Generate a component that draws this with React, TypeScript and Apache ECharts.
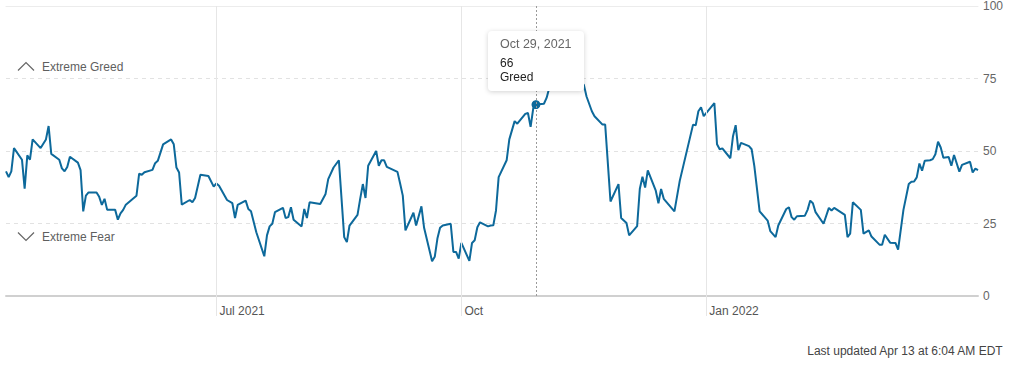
import React, { useEffect, useRef } from "react";
import * as echarts from "echarts";

const dates: string[] = [
  "2021-04-13","2021-04-14","2021-04-15","2021-04-16","2021-04-19","2021-04-20","2021-04-21","2021-04-22","2021-04-23","2021-04-26",
  "2021-04-28","2021-04-29","2021-04-30","2021-05-03","2021-05-04","2021-05-05","2021-05-06","2021-05-07","2021-05-10","2021-05-11",
  "2021-05-12","2021-05-13","2021-05-14","2021-05-17","2021-05-18","2021-05-19","2021-05-20","2021-05-21","2021-05-24","2021-05-25",
  "2021-05-26","2021-05-27","2021-05-28","2021-06-01","2021-06-02","2021-06-03","2021-06-04","2021-06-07","2021-06-08","2021-06-09",
  "2021-06-11","2021-06-14","2021-06-15","2021-06-16","2021-06-17","2021-06-18","2021-06-21","2021-06-22","2021-06-23","2021-06-25",
  "2021-06-28","2021-06-30","2021-07-01","2021-07-02","2021-07-05","2021-07-07","2021-07-08","2021-07-09","2021-07-12","2021-07-13",
  "2021-07-14","2021-07-16","2021-07-19","2021-07-20","2021-07-21","2021-07-22","2021-07-23","2021-07-26","2021-07-27","2021-07-28",
  "2021-07-29","2021-07-30","2021-08-02","2021-08-03","2021-08-04","2021-08-05","2021-08-09","2021-08-11","2021-08-12","2021-08-14",
  "2021-08-16","2021-08-18","2021-08-19","2021-08-20","2021-08-23","2021-08-24","2021-08-25","2021-08-26","2021-08-27","2021-08-30",
  "2021-08-31","2021-09-01","2021-09-02","2021-09-03","2021-09-07","2021-09-08","2021-09-09","2021-09-10","2021-09-13","2021-09-14",
  "2021-09-16","2021-09-17","2021-09-20","2021-09-21","2021-09-22","2021-09-23","2021-09-24","2021-09-27","2021-09-28","2021-09-29",
  "2021-09-30","2021-10-01","2021-10-04","2021-10-05","2021-10-06","2021-10-07","2021-10-08","2021-10-11","2021-10-12","2021-10-13",
  "2021-10-14","2021-10-15","2021-10-18","2021-10-19","2021-10-21","2021-10-22","2021-10-25","2021-10-26","2021-10-27","2021-10-28",
  "2021-10-29","2021-11-01","2021-11-02","2021-11-03","2021-11-04","2021-11-05","2021-11-08","2021-11-09","2021-11-10","2021-11-11",
  "2021-11-12","2021-11-15","2021-11-16","2021-11-17","2021-11-19","2021-11-20","2021-11-23","2021-11-24","2021-11-26","2021-11-29",
  "2021-11-30","2021-12-02","2021-12-03","2021-12-06","2021-12-07","2021-12-08","2021-12-09","2021-12-10","2021-12-13","2021-12-14",
  "2021-12-15","2021-12-16","2021-12-20","2021-12-22","2021-12-27","2021-12-28","2021-12-29","2021-12-30","2021-12-31","2022-01-04",
  "2022-01-05","2022-01-06","2022-01-07","2022-01-10","2022-01-11","2022-01-12","2022-01-13","2022-01-14","2022-01-17","2022-01-18",
  "2022-01-19","2022-01-21","2022-01-24","2022-01-25","2022-01-27","2022-01-28","2022-01-31","2022-02-01","2022-02-02","2022-02-03",
  "2022-02-04","2022-02-07","2022-02-08","2022-02-09","2022-02-10","2022-02-11","2022-02-14","2022-02-16","2022-02-17","2022-02-18",
  "2022-02-22","2022-02-23","2022-02-24","2022-02-25","2022-02-28","2022-03-01","2022-03-03","2022-03-04","2022-03-07","2022-03-08",
  "2022-03-09","2022-03-11","2022-03-13","2022-03-14","2022-03-16","2022-03-18","2022-03-19","2022-03-20","2022-03-21","2022-03-22",
  "2022-03-23","2022-03-24","2022-03-26","2022-03-27","2022-03-28","2022-03-29","2022-03-30","2022-03-31","2022-04-02","2022-04-03",
  "2022-04-04","2022-04-06","2022-04-07","2022-04-10","2022-04-11","2022-04-12","2022-04-13"
];

const values: number[] = [
  43,41,43,51,47,37,48.5,47,54,51,
  54,58.6,49,47,44,43,44.5,48,46,43.4,
  29.2,34.6,35.7,35.7,34.2,31.4,33.5,29.7,29.7,26.3,
  28.5,29.7,31.5,34.6,42.2,41.8,42.7,43.5,45.8,46.6,
  52.3,54,52.3,44.3,42.6,31.5,33.1,32.3,33.8,41.8,
  41.4,37.7,38.8,38,33.1,32,26.9,31.4,32.9,30,
  29.2,22,13.7,20.9,24,24.9,28.9,30.4,26.9,27.2,
  30.6,26.3,24,30,26.9,32.3,31.7,35.2,40.3,44.3,
  46.8,20.3,18.6,24.3,28,33.5,38.6,33.8,44.9,50,
  44.9,46.8,46.8,44.5,42.8,38.8,34.6,22.6,28.7,24.3,
  30.9,23.5,12,13.5,19.8,23.5,24.3,24.9,15.2,15.2,
  12.9,18.3,12.1,18.3,19.2,23.7,25.4,24,24.3,24.4,
  29.5,41,46.8,54,60.3,59.4,62.8,63.1,58.3,64.8,
  66,66.3,68.3,71.7,75,78,82,79,76,77,
  78,73.4,72.8,68.8,63.7,62,59.1,59.1,32.6,38.6,
  26.9,25.2,20.9,24.1,36.9,41.1,37.4,43.3,36.3,32,
  36.9,33.5,29.2,39.7,59.1,58.9,63.7,65.1,62,66.5,
  52.3,50.6,50.9,47.5,55.1,58.9,50.3,52.8,51.7,50.6,
  44.9,29.2,26,22.4,20.3,24.3,30,30.6,27.2,26.3,
  27.5,27.7,29.7,32.9,32,28.9,24.9,30.4,29.5,30.4,
  28,20.3,21.5,32.3,29.7,21.5,22.6,20.5,17.7,17.7,
  21.1,18.4,18.3,16,29.7,38.6,39.4,39.5,40.9,45.7,
  43.2,46.6,46.8,47.2,48.9,53.2,51.2,47.7,47.9,44.9,
  48.6,42.9,45.2,46.3,42.6,43.9,43.4
];

const xMin = "2021-04-13";
const xMax = "2022-04-13";
const xTickDates: string[] = ["2021-07-01", "2021-10-01", "2022-01-01"];
const xTickLabels: string[] = ["Jul 2021", "Oct", "Jan 2022"];
const yTicks: number[] = [0, 25, 50, 75, 100];
const zoneLabels: string[] = ["Extreme Greed", "Extreme Fear"];
const highlightDate = "2021-10-29";
const updatedText = "Last updated Apr 13 at 6:04 AM EDT";
const monthNames = ["Jan","Feb","Mar","Apr","May","Jun","Jul","Aug","Sep","Oct","Nov","Dec"];

const LINE_COLOR = "#0d699b";
const FONT = "'Liberation Sans', Arial, Helvetica, sans-serif";

function parseLocal(s: string): number {
  const [y, m, d] = s.split("-").map(Number);
  return new Date(y, m - 1, d).getTime();
}

function rating(v: number): string {
  if (v < 25) return "Extreme Fear";
  if (v < 45) return "Fear";
  if (v <= 55) return "Neutral";
  if (v < 75) return "Greed";
  return "Extreme Greed";
}

function fmtDate(t: number): string {
  const d = new Date(t);
  return `${monthNames[d.getMonth()]} ${d.getDate()}, ${d.getFullYear()}`;
}

export default function App() {
  const ref = useRef<HTMLDivElement>(null);

  useEffect(() => {
    if (!ref.current) return;
    const chart = echarts.init(ref.current, undefined, { renderer: "svg" });
    const seriesData = dates.map((d, i) => [parseLocal(d), values[i]]);
    const tickTimes = xTickDates.map(parseLocal);
    const hiIdx = dates.indexOf(highlightDate);
    const minT = parseLocal(xMin);
    const maxT = parseLocal(xMax);

    chart.setOption({
      animation: false,
      textStyle: { fontFamily: FONT },
      grid: { left: 6, right: 41, top: 4, bottom: 69, containLabel: false },
      tooltip: {
        trigger: "axis",
        alwaysShowContent: true,
        transitionDuration: 0,
        backgroundColor: "#fff",
        borderWidth: 0,
        padding: [6, 12, 7, 12],
        extraCssText: "box-shadow: 0 1px 5px rgba(0,0,0,0.18); border-radius: 4px;",
        axisPointer: {
          type: "line",
          lineStyle: { color: "#9a9a9a", type: [2, 2], width: 1 },
          label: { show: false },
        },
        position: (point: number[], _p: any, _d: any, _r: any, size: any) => [
          point[0] - size.contentSize[0] / 2,
          point[1] - size.contentSize[1] - 14,
        ],
        formatter: (params: any) => {
          const p = Array.isArray(params) ? params[0] : params;
          const v = p.value[1];
          const t = p.value[0];
          return `<div style="font-family:${FONT};">` +
            `<div style="color:#666;font-size:12.5px;line-height:15px;">${fmtDate(t)}</div>` +
            `<div style="color:#222;font-size:12px;line-height:14px;margin-top:4px;">${v}</div>` +
            `<div style="color:#222;font-size:12px;line-height:14px;">${rating(v)}</div>` +
            `</div>`;
        },
      },
      xAxis: [
        {
          type: "value",
          min: minT,
          max: maxT,
          axisLine: { show: true, onZero: false, lineStyle: { color: "#d0d0d0", width: 2 } },
          axisTick: {
            show: true,
            customValues: tickTimes,
            length: 20,
            lineStyle: { color: "#e6e6e6", width: 1 },
          },
          axisLabel: {
            show: true,
            customValues: tickTimes,
            formatter: (val: number) => {
              const i = tickTimes.indexOf(val);
              return i >= 0 ? xTickLabels[i] : "";
            },
            align: "left",
            padding: [0, 0, 0, 3],
            margin: 9,
            color: "#555",
            fontSize: 12,
            fontFamily: FONT,
          },
          splitLine: { show: false },
        },
        {
          type: "value",
          position: "top",
          min: minT,
          max: maxT,
          axisLine: { show: true, onZero: false, lineStyle: { color: "#ececec", width: 1 } },
          axisTick: { show: false },
          axisLabel: { show: false },
          splitLine: { show: false },
        },
      ],
      yAxis: {
        type: "value",
        position: "right",
        min: yTicks[0],
        max: yTicks[yTicks.length - 1],
        interval: 25,
        axisLine: { show: false },
        axisTick: { show: false },
        axisLabel: { color: "#666", fontSize: 12, margin: 5, fontFamily: FONT },
        splitLine: { show: true, lineStyle: { color: "#e2e2e2", type: [4, 4], width: 1 } },
      },
      series: [
        {
          type: "line",
          data: [],
          z: 1,
          silent: true,
          markLine: {
            silent: true,
            symbol: ["none", "none"],
            label: { show: false },
            lineStyle: { color: "#e6e6e6", type: "solid", width: 1 },
            emphasis: { disabled: true },
            data: tickTimes.map((t) => ({ xAxis: t })),
          },
        },
        {
          type: "line",
          z: 3,
          data: seriesData,
          showSymbol: false,
          symbol: "circle",
          symbolSize: 8,
          lineStyle: { color: LINE_COLOR, width: 2 },
          itemStyle: { color: LINE_COLOR },
          emphasis: { disabled: true },
          markPoint: {
            symbol: "circle",
            symbolSize: 8,
            itemStyle: { color: LINE_COLOR },
            label: { show: false },
            data: [{ coord: seriesData[hiIdx] }],
          },
        },
      ],
      graphic: [
        {
          type: "polyline",
          shape: { points: [[18, 70.5], [26, 62.5], [34, 70.5]] },
          style: { stroke: "#666", lineWidth: 1.2, fill: null },
        },
        {
          type: "text",
          left: 42,
          top: 61,
          style: { text: zoneLabels[0], fill: "#5f5f5f", fontSize: 12, fontFamily: FONT },
        },
        {
          type: "polyline",
          shape: { points: [[18, 232.5], [26, 240.5], [34, 232.5]] },
          style: { stroke: "#666", lineWidth: 1.2, fill: null },
        },
        {
          type: "text",
          left: 42,
          top: 231,
          style: { text: zoneLabels[1], fill: "#5f5f5f", fontSize: 12, fontFamily: FONT },
        },
        {
          type: "text",
          right: 15,
          top: 345,
          style: { text: updatedText, fill: "#444", fontSize: 12, fontFamily: FONT },
        },
      ],
    });

    chart.dispatchAction({ type: "showTip", seriesIndex: 1, dataIndex: hiIdx });

    return () => chart.dispose();
  }, []);

  return (
    <div style={{ position: "fixed", left: 0, top: 0, width: 1019, height: 365, background: "#fff" }}>
      <div ref={ref} style={{ width: 1019, height: 365 }} />
    </div>
  );
}
